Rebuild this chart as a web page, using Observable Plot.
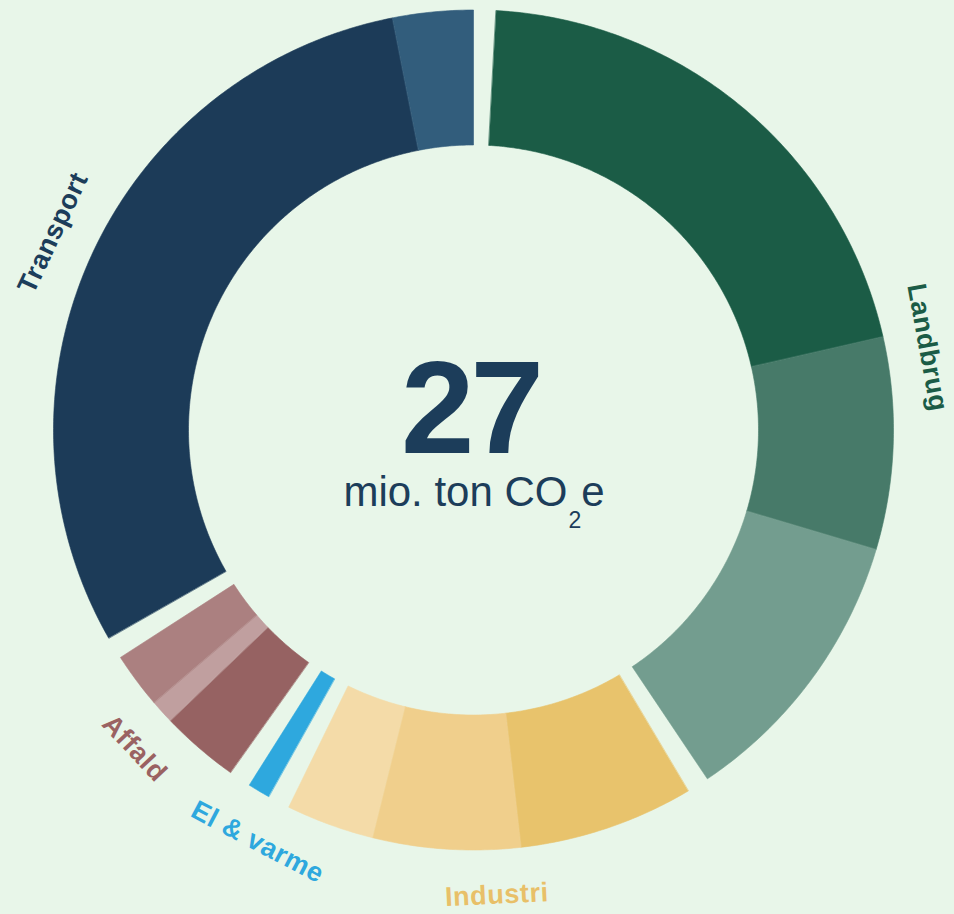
<!DOCTYPE html>
<html><head><meta charset="utf-8">
<script src="https://cdn.jsdelivr.net/npm/d3@7"></script>
<script src="https://cdn.jsdelivr.net/npm/@observablehq/plot@0.6"></script>
<style>
html,body{margin:0;padding:0;background:#e8f6e9;}
#chart{width:954px;height:914px;overflow:hidden;}
svg{display:block;}
</style></head><body><div id="chart"></div>
<script>
// Categories (clockwise from top)
const categories = ["Landbrug", "Industri", "El & varme", "Affald", "Transport"];
const categoryColors = ["#1b5c46", "#e8c068", "#2ea8de", "#9a6262", "#1c3d5a"];
// Sub-segments (mio. ton CO2e)
const segmentCategory = ["Landbrug", "Landbrug", "Landbrug", "Industri", "Industri", "Industri", "El & varme", "Affald", "Affald", "Affald", "Transport", "Transport"];
const segmentValues = [5.8, 2.3, 3.1, 1.9, 1.6, 0.95, 0.24, 0.85, 0.26, 0.6, 8.5, 0.87];
const segmentColors = ["#1b5c46", "#477a69", "#739d8f", "#e8c36c", "#f0cf8c", "#f4dba8", "#2ea8de", "#966262", "#c09f9f", "#ab8080", "#1c3b58", "#325d7c"];
const totalLabel = "27";
const unitLabel = "mio. ton CO2e";

// Layout
const W = 954, H = 914;
const CX = 473.5, CY = 430;
const R_OUT = 420, R_IN = 285, LABEL_R = 465;
const PAD = 3.1; // degrees between categories
const total = d3.sum(segmentValues);
const degPerUnit = (360 - PAD * categories.length) / total;
const rad = d => d * Math.PI / 180;

// Build arcs
const arcs = [];
const catSpan = {};
let a = 0;
categories.forEach(cat => {
  a += PAD;
  const start = a;
  segmentValues.forEach((v, i) => {
    if (segmentCategory[i] !== cat) return;
    arcs.push({id: i, a0: a, a1: a + v * degPerUnit, color: segmentColors[i]});
    a += v * degPerUnit;
  });
  catSpan[cat] = [start, a];
});

const rows = [];
arcs.forEach(s => {
  const n = Math.max(8, Math.ceil((s.a1 - s.a0) * 2));
  for (let j = 0; j <= n; j++) {
    const t = rad(s.a0 + (s.a1 - s.a0) * j / n);
    rows.push({id: s.id, color: s.color,
      ox: R_OUT * Math.sin(t), oy: -R_OUT * Math.cos(t),
      ix: R_IN * Math.sin(t), iy: -R_IN * Math.cos(t)});
  }
});

// Category labels
const labelShift = {"Landbrug": 5, "Industri": -0.5, "El & varme": -3, "Affald": 0.6, "Transport": -5};
const labels = categories.map((c, i) => {
  const th = (catSpan[c][0] + catSpan[c][1]) / 2 + labelShift[c];
  let rot = th;
  if (th > 90 && th < 270) rot = th - 180;
  else if (th >= 270) rot = th - 360;
  const r = c === "Landbrug" ? LABEL_R - 4 : LABEL_R;
  return {text: c, color: categoryColors[i], x: r * Math.sin(rad(th)), y: -r * Math.cos(rad(th)), rot};
});

const FONT = "'Liberation Sans', Arial, Helvetica, sans-serif";

const chart = Plot.plot({
  width: W, height: H,
  margin: 0,
  x: {domain: [-CX, W - CX], range: [0, W], axis: null},
  y: {domain: [-CY, H - CY], range: [0, H], axis: null},
  color: {type: "identity"},
  style: {background: "transparent", fontFamily: FONT},
  marks: [
    Plot.area(rows, {x1: "ox", y1: "oy", x2: "ix", y2: "iy", z: "id", fill: "color", stroke: "color", strokeWidth: 0.6, curve: "linear"}),
    Plot.text(labels, {x: "x", y: "y", text: "text", fill: "color", rotate: "rot", fontSize: 27, fontWeight: "bold", fontFamily: FONT, textAnchor: "middle", lineAnchor: "middle"}),
    Plot.text([totalLabel], {x: -3.5, y: -20, text: d => d, fill: "#1c3d5a", fontSize: 132, fontWeight: "bold", fontFamily: FONT, textAnchor: "middle", lineAnchor: "middle"}),
    Plot.text([unitLabel], {x: 0, y: 62, text: d => d, fill: "#1c3d5a", fontSize: 42, fontFamily: FONT, textAnchor: "middle", lineAnchor: "middle"})
  ]
});
document.getElementById("chart").appendChild(chart);

// letter spacing tweaks & subscript
d3.select(chart).selectAll("text").each(function() {
  const el = d3.select(this);
  const txt = this.textContent;
  if (txt === totalLabel) el.attr("letter-spacing", -4);
  if (categories.includes(txt)) el.attr("letter-spacing", 0.6);
  if (txt === unitLabel) {
    const m = unitLabel.match(/^(.*CO)2(.*)$/);
    el.text(null);
    el.append("tspan").text(m[1]);
    el.append("tspan").attr("font-size", 23).attr("dy", 22).attr("dx", 1).text("2");
    el.append("tspan").attr("dy", -22).text(m[2]);
  }
});
</script>
</body></html>
